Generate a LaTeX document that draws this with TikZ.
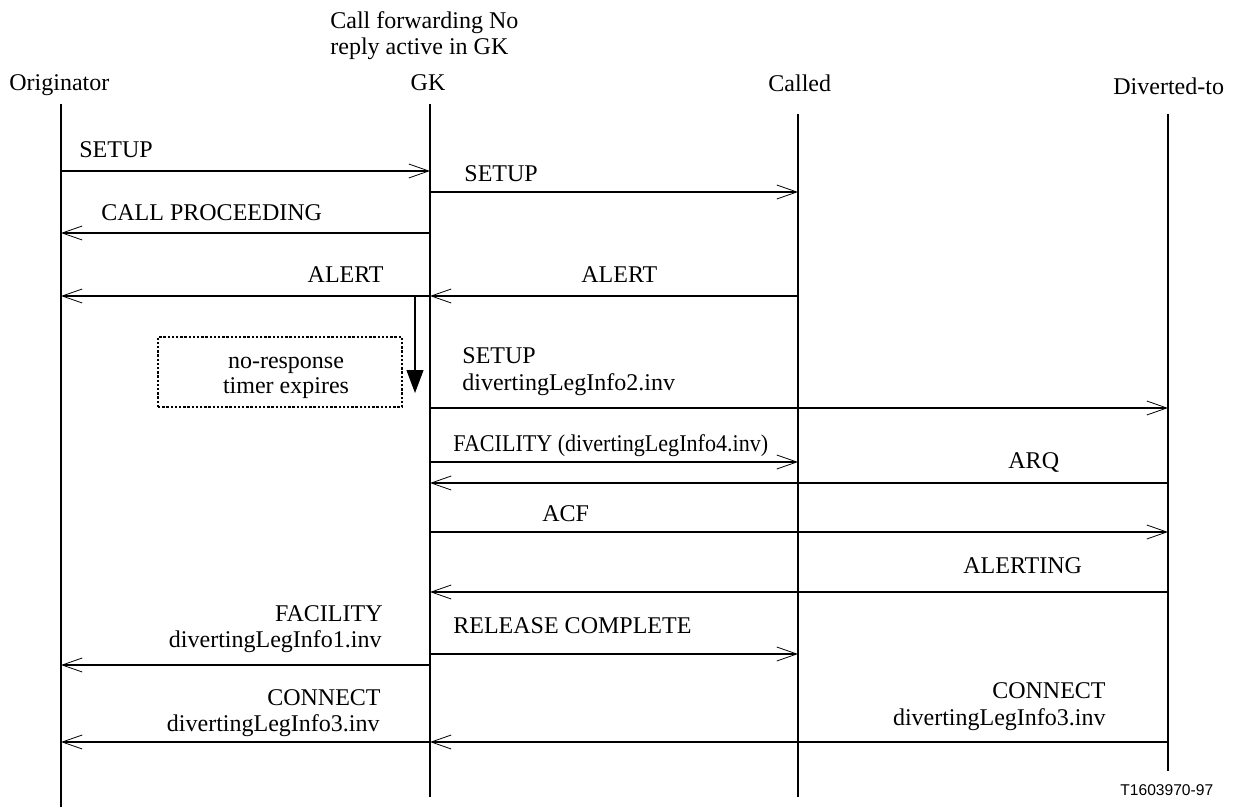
\documentclass[tikz,border=0pt]{standalone}
\usepackage{fontspec}
\usepackage{graphicx}
\setmainfont{Liberation Serif}
\newfontfamily\labsans{Liberation Sans}
\usetikzlibrary{arrows.meta}
\begin{document}
\begin{tikzpicture}[x=0.5pt,y=-0.5pt,
  txt/.style={inner sep=0pt, font=\fontsize{12}{12.5}\selectfont},
  life/.style={line width=0.55pt},
  msg/.style={line width=0.55pt, -{Straight Barb[length=10pt,width=7pt,line width=0.4pt]}},
  timer/.style={line width=0.6pt, -{Triangle[length=11.5pt,width=8.5pt]}},
  notebox/.style={draw, line width=0.65pt, dash pattern=on 1.2pt off 0.9pt,
                  minimum width=122pt, minimum height=35pt, inner sep=0pt}]
\useasboundingbox (0,0) rectangle (1235,807);

% lifelines
\coordinate (O) at (61,104);   \coordinate (Ob) at (61,807);
\coordinate (G) at (430,104);  \coordinate (Gb) at (430,797);
\coordinate (C) at (798,114);  \coordinate (Cb) at (798,797);
\coordinate (D) at (1168,114); \coordinate (Db) at (1168,771);
\draw[life] (O) -- (Ob);
\draw[life] (G) -- (Gb);
\draw[life] (C) -- (Cb);
\draw[life] (D) -- (Db);

% headers
\node[txt, anchor=base west] (hO) at (9,91) {Originator};
\node[txt, anchor=base] (hG) at (428,91) {GK};
\node[txt, anchor=base west] (hC) at (768,92) {Called};
\node[txt, anchor=base west] (hD) at (1113,95) {Diverted-to};
\node[txt, anchor=base west] (cf1) at (330,29) {Call forwarding No};
\node[txt, anchor=base west] (cf2) at (330,55) {reply active in GK};

% messages
\draw[msg] (O |- 0,171) -- (G |- 0,171);
\node[txt, anchor=base west] (l1) at (79,158) {SETUP};

\draw[msg] (G |- 0,192) -- (C |- 0,192);
\node[txt, anchor=base west] (l2) at (464,182) {SETUP};

\draw[msg] (G |- 0,233) -- (O |- 0,233);
\node[txt, anchor=base west] (l3) at (101,221) {CALL PROCEEDING};

\draw[msg] (G |- 0,296) -- (O |- 0,296);
\node[txt, anchor=base east] (l4) at (384,283) {ALERT};
\draw[msg] (C |- 0,296) -- (G |- 0,296);
\node[txt, anchor=base west] (l5) at (581,283) {ALERT};

% timer
\coordinate (t0) at (415,296);
\coordinate (t1) at (415,393);
\draw[timer] (t0) -- (t1);
\node[notebox] (nb) at (280,372) {};
\node[txt, anchor=base] (nb1) at (286,368) {no-response};
\node[txt, anchor=base] (nb2) at (286,393) {timer expires};

\draw[msg] (G |- 0,408) -- (D |- 0,408);
\node[txt, anchor=base west] (l6a) at (462,364) {SETUP};
\node[txt, anchor=base west] (l6b) at (462,390) {divertingLegInfo2.inv};

\draw[msg] (G |- 0,462) -- (C |- 0,462);
\node[txt, anchor=base west] (l7) at (453,451) {\scalebox{0.92}[1]{FACILITY (divertingLegInfo4.inv)}};

\draw[msg] (D |- 0,483) -- (G |- 0,483);
\node[txt, anchor=base west] (l8) at (1008,468) {ARQ};

\draw[msg] (G |- 0,532) -- (D |- 0,532);
\node[txt, anchor=base west] (l9) at (542,521) {ACF};

\draw[msg] (D |- 0,592) -- (G |- 0,592);
\node[txt, anchor=base west] (l10) at (963,573) {ALERTING};

\draw[msg] (G |- 0,665) -- (O |- 0,665);
\node[txt, anchor=base east] (l11a) at (383,621) {FACILITY};
\node[txt, anchor=base east] (l11b) at (382,647) {divertingLegInfo1.inv};

\draw[msg] (G |- 0,654) -- (C |- 0,654);
\node[txt, anchor=base west] (l12) at (453,633) {RELEASE COMPLETE};

\draw[msg] (G |- 0,742) -- (O |- 0,742);
\node[txt, anchor=base east] (l13a) at (381,705) {CONNECT};
\node[txt, anchor=base east] (l13b) at (380,731) {divertingLegInfo3.inv};

\draw[msg] (D |- 0,742) -- (G |- 0,742);
\node[txt, anchor=base east] (l14a) at (1106,698) {CONNECT};
\node[txt, anchor=base east] (l14b) at (1106,725) {divertingLegInfo3.inv};

\node[inner sep=0pt, anchor=base west, font=\labsans\fontsize{7.8}{9}\selectfont] (ref) at (1120,795) {T1603970-97};
\end{tikzpicture}
\end{document}
